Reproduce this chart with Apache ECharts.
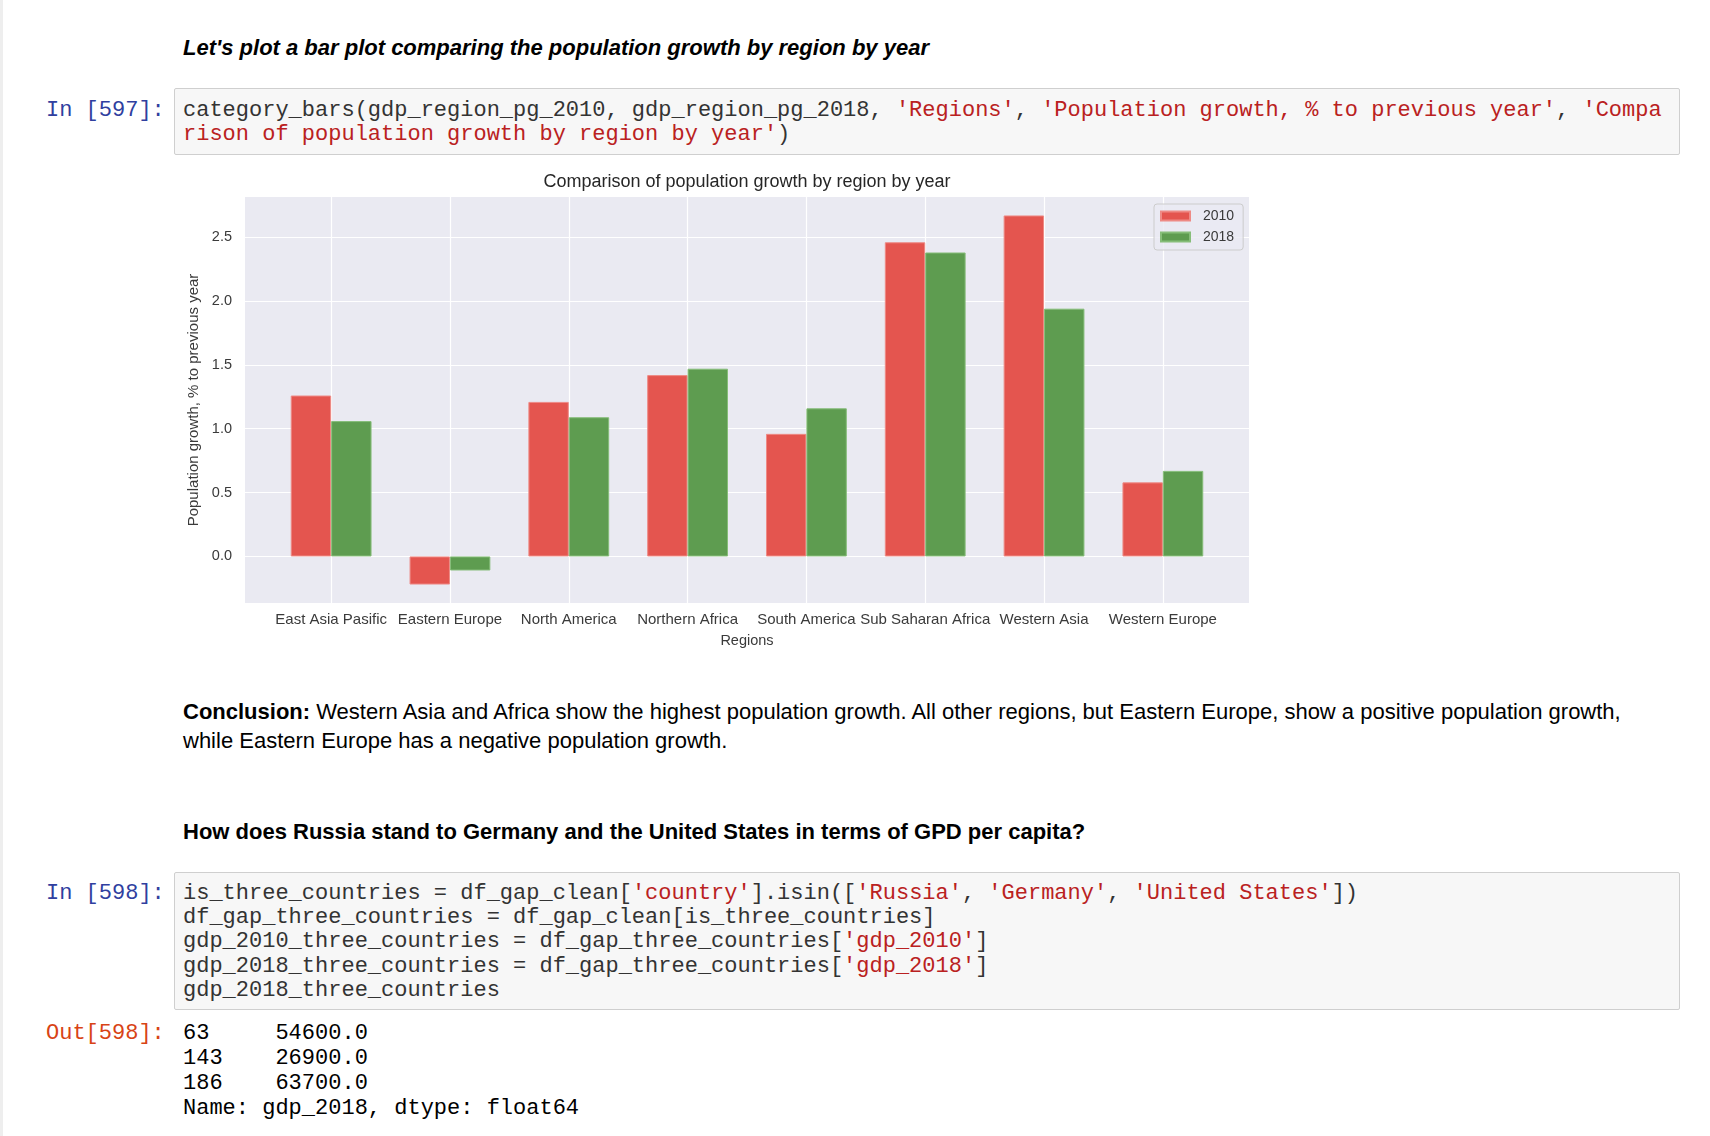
<!DOCTYPE html>
<html>
<head>
<meta charset="utf-8">
<script src="https://cdn.jsdelivr.net/npm/echarts@6/dist/echarts.min.js"></script>
<style>
  html, body { margin: 0; padding: 0; background: #fff; }
  body { width: 1710px; height: 1136px; position: relative; overflow: hidden;
         font-family: "Liberation Sans", Arial, Helvetica, sans-serif; color: #000; }
  .edge { position: absolute; left: 0; top: 0; width: 3px; height: 1136px; background: #eeeeee; }
  .txt { position: absolute; white-space: nowrap; }
  .mono { font-family: "Liberation Mono", "DejaVu Sans Mono", monospace; font-size: 22px; }
  .prompt-in { color: #303F9F; }
  .prompt-out { color: #D84315; }
  .box { position: absolute; background: #f7f7f7; border: 1px solid #cfcfcf; border-radius: 2px; box-sizing: border-box; }
  .code { color: #333; white-space: pre; }
  .s { color: #BA2121; }
  #chart { position: absolute; left: 170px; top: 150px; width: 1154px; height: 510px; }
</style>
</head>
<body>
<div class="edge"></div>

<div class="txt" style="left:183px; top:36px; font-size:22px; line-height:24px; font-weight:bold; font-style:italic;">Let's plot a bar plot comparing the population growth by region by year</div>

<div class="txt mono prompt-in" style="left:46px; top:99px; line-height:24px;">In [597]:</div>
<div class="box" style="left:174px; top:88px; width:1506px; height:67px;"></div>
<div class="txt mono code" style="left:183px; top:99px; line-height:24px;">category_bars(gdp_region_pg_2010, gdp_region_pg_2018, <span class="s">'Regions'</span>, <span class="s">'Population growth, % to previous year'</span>, <span class="s">'Compa</span>
<span class="s">rison of population growth by region by year'</span>)</div>

<div id="chart"></div>

<div class="txt" style="left:183px; top:698px; font-size:22px; line-height:28.5px;"><b>Conclusion:</b> Western Asia and Africa show the highest population growth. All other regions, but Eastern Europe, show a positive population growth,<br>while Eastern Europe has a negative population growth.</div>

<div class="txt" style="left:183px; top:818px; font-size:22px; line-height:28px; font-weight:bold;">How does Russia stand to Germany and the United States in terms of GPD per capita?</div>

<div class="txt mono prompt-in" style="left:46px; top:882px; line-height:24px;">In [598]:</div>
<div class="box" style="left:174px; top:872px; width:1506px; height:138px;"></div>
<div class="txt mono code" style="left:183px; top:882px; line-height:24.2px;">is_three_countries = df_gap_clean[<span class="s">'country'</span>].isin([<span class="s">'Russia'</span>, <span class="s">'Germany'</span>, <span class="s">'United States'</span>])
df_gap_three_countries = df_gap_clean[is_three_countries]
gdp_2010_three_countries = df_gap_three_countries[<span class="s">'gdp_2010'</span>]
gdp_2018_three_countries = df_gap_three_countries[<span class="s">'gdp_2018'</span>]
gdp_2018_three_countries</div>

<div class="txt mono prompt-out" style="left:46px; top:1021px; line-height:25px;">Out[598]:</div>
<div class="txt mono" style="left:183px; top:1021px; line-height:25px; color:#000; white-space:pre;">63     54600.0
143    26900.0
186    63700.0
Name: gdp_2018, dtype: float64</div>

<script>
// data
var regions = ['East Asia Pasific', 'Eastern Europe', 'North America', 'Northern Africa',
               'South America', 'Sub Saharan Africa', 'Western Asia', 'Western Europe'];
var growth2010 = [1.26, -0.22, 1.21, 1.42, 0.96, 2.46, 2.67, 0.58];
var growth2018 = [1.06, -0.11, 1.09, 1.47, 1.16, 2.38, 1.94, 0.67];
var years = ['2010', '2018'];

// matplotlib style limits: 5% padding around the data
var all = growth2010.concat(growth2018, [0]);
var dMin = Math.min.apply(null, all), dMax = Math.max.apply(null, all);
var pad = (dMax - dMin) * 0.05;
var yLo = dMin - pad, yHi = dMax + pad;

// plot area (inside the chart div)
var plotLeft = 75, plotTop = 47, plotW = 1004, plotH = 406;
var xPad = 0.725;
var band = plotW / (regions.length - 1 + 2 * xPad);
var barLeft = plotLeft + xPad * band;
var barW = (regions.length - 1) * band;

var txtColor = '#3a3a3a';
var font = 'Liberation Sans';

var chart = echarts.init(document.getElementById('chart'));
var option = {
    animation: false,
    textStyle: { fontFamily: font },
    title: {
        text: 'Comparison of population growth by region by year',
        left: 'center',
        top: 23,
        padding: 0,
        textStyle: { fontSize: 18, fontWeight: 'normal', color: '#262626', fontFamily: font }
    },
    legend: {
        data: years,
        orient: 'vertical',
        left: 984,
        top: 54,
        itemWidth: 29,
        itemHeight: 9,
        itemGap: 7,
        icon: 'rect',
        padding: [5, 9, 6, 6],
        backgroundColor: 'rgba(234,234,242,0.8)',
        borderColor: '#cccccc',
        borderWidth: 1,
        borderRadius: 3,
        textStyle: { fontSize: 14, color: txtColor, fontFamily: font, padding: [0, 0, 0, 8] }
    },
    grid: [
        { left: barLeft, top: plotTop, width: barW, height: plotH, containLabel: false },
        { left: plotLeft, top: plotTop, width: plotW, height: plotH, show: true,
          backgroundColor: '#eaeaf2', borderWidth: 0, containLabel: false }
    ],
    xAxis: [
        {
            gridIndex: 0,
            type: 'category',
            data: regions,
            boundaryGap: false,
            axisLine: { show: false },
            axisTick: { show: false },
            axisLabel: { interval: 0, margin: 9, fontSize: 15, color: txtColor, fontFamily: font },
            splitLine: { show: true, lineStyle: { color: '#ffffff', width: 1.2 } },
            name: 'Regions',
            nameLocation: 'middle',
            nameGap: 30,
            nameTextStyle: { fontSize: 14.5, color: txtColor, fontFamily: font }
        },
        { gridIndex: 1, type: 'value', min: 0, max: 1, show: false }
    ],
    yAxis: [
        { gridIndex: 0, type: 'value', min: yLo, max: yHi, show: false },
        {
            gridIndex: 1,
            type: 'value',
            min: yLo,
            max: yHi,
            minInterval: 0.5,
            maxInterval: 0.5,
            axisLine: { show: false },
            axisTick: { show: false },
            axisLabel: {
                margin: 13, fontSize: 14.5, color: txtColor, fontFamily: font,
                showMinLabel: false, showMaxLabel: false,
                formatter: function (v) { return v.toFixed(1); }
            },
            splitLine: { show: true, showMinLine: false, showMaxLine: false,
                         lineStyle: { color: '#ffffff', width: 1.2 } },
            name: 'Population growth, % to previous year',
            nameLocation: 'middle',
            nameGap: 38,
            nameTextStyle: { fontSize: 15, color: txtColor, fontFamily: font }
        }
    ],
    series: [
        {
            name: '2010',
            type: 'bar',
            xAxisIndex: 0,
            yAxisIndex: 0,
            data: growth2010,
            barWidth: '34%',
            barGap: '0%',
            itemStyle: { color: '#e4554f', borderColor: '#ee8a85', borderWidth: 1 }
        },
        {
            name: '2018',
            type: 'bar',
            xAxisIndex: 0,
            yAxisIndex: 0,
            data: growth2018,
            barWidth: '34%',
            barGap: '0%',
            itemStyle: { color: '#5e9c50', borderColor: '#86bd79', borderWidth: 1 }
        }
    ]
};
chart.setOption(option);
</script>
</body>
</html>
